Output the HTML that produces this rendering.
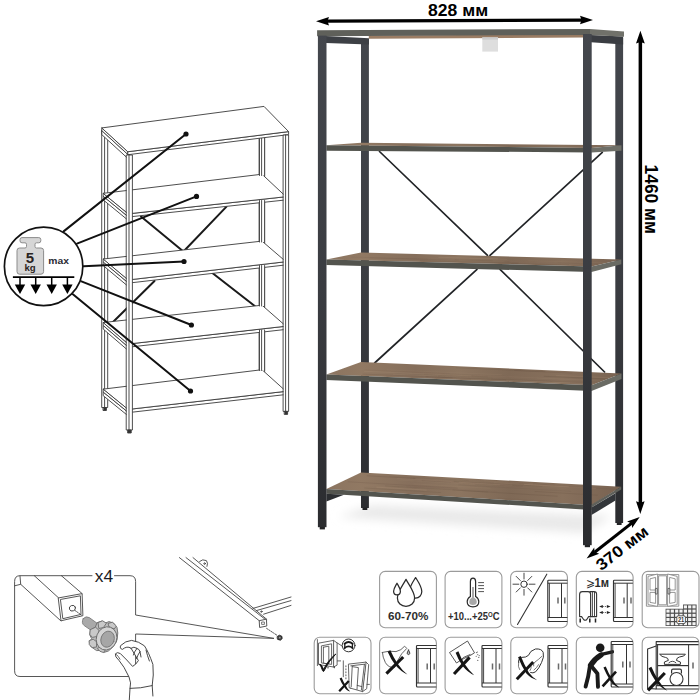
<!DOCTYPE html>
<html lang="ru">
<head>
<meta charset="utf-8">
<title>Стеллаж 828 × 370 × 1460 мм</title>
<style>
html,body{margin:0;padding:0;background:#fff;}
body{width:700px;height:700px;overflow:hidden;font-family:"Liberation Sans",sans-serif;}
svg{display:block;}
text{font-family:"Liberation Sans",sans-serif;}
</style>
</head>
<body>
<svg width="700" height="700" viewBox="0 0 700 700">
<defs>
  <linearGradient id="wood" gradientUnits="userSpaceOnUse" x1="326" y1="0" x2="622" y2="0">
    <stop offset="0" stop-color="#8b7460"/>
    <stop offset="0.12" stop-color="#917963"/>
    <stop offset="0.3" stop-color="#856e5b"/>
    <stop offset="0.45" stop-color="#8c7560"/>
    <stop offset="0.62" stop-color="#7f6956"/>
    <stop offset="0.8" stop-color="#87705c"/>
    <stop offset="1" stop-color="#786251"/>
  </linearGradient>
  <linearGradient id="floor" x1="0" y1="0" x2="0" y2="1">
    <stop offset="0" stop-color="#f4f4f4" stop-opacity="0"/>
    <stop offset="0.5" stop-color="#ececec" stop-opacity="1"/>
    <stop offset="1" stop-color="#f4f4f4" stop-opacity="0"/>
  </linearGradient>
  <linearGradient id="post" gradientUnits="userSpaceOnUse" x1="0" y1="30" x2="0" y2="545">
    <stop offset="0" stop-color="#44474d"/>
    <stop offset="0.5" stop-color="#3a3c41"/>
    <stop offset="1" stop-color="#2a2b2e"/>
  </linearGradient>
  <filter id="blur" x="-10%" y="-60%" width="120%" height="220%"><feGaussianBlur stdDeviation="5"/></filter>
</defs>
<rect width="700" height="700" fill="#fff"/>

<!-- ================= MAIN SHELF ================= -->
<g id="shelf">
  <!-- floor shadow -->
  <polygon points="338,517 584,533 612,516 372,505" fill="#e9e9e9" filter="url(#blur)"/>
  <!-- back posts -->
  <rect x="361" y="40" width="7.9" height="468" fill="url(#post)"/>
  <rect x="362.5" y="507.6" width="4.8" height="2.4" fill="#232426"/>
  <rect x="615.3" y="38" width="7.8" height="485" fill="url(#post)"/>
  <rect x="616.8" y="522.6" width="4.8" height="2.4" fill="#232426"/>
  <!-- cross braces (back) -->
  <g stroke="#222427" stroke-width="1.7" fill="none" stroke-linecap="round">
    <line x1="379.5" y1="151.5" x2="487.5" y2="255.4"/>
    <line x1="602.3" y1="152.3" x2="490" y2="255.4"/>
    <line x1="477" y1="269.3" x2="374.6" y2="363"/>
    <line x1="500" y1="269.3" x2="604.6" y2="372"/>
  </g>
  <!-- top side rails -->
  <polygon points="326,36 369,38.2 369,44.4 326,43" fill="#3d4045"/>
  <polygon points="591,35 623.1,36.6 623.1,44.4 591,42.2" fill="#3a3d42"/>
  <!-- top shelf underside + edge -->
  <polygon points="368.8,35.6 583,34.4 583,37.5 368.8,38.7" fill="#9a7c63"/>
  <polygon points="317.1,30.3 590,28.9 590,34.9 317.1,36.2" fill="#5f605a"/>
  <polygon points="590,28.9 624,31.4 624,36.7 590,34.9" fill="#70716a"/>
  <!-- bracket -->
  <rect x="482.3" y="37.4" width="15.7" height="14.2" fill="#dedede"/>
  <rect x="482.3" y="37.4" width="15.7" height="2.2" fill="#cbcbcb"/>

  <!-- shelf 2 -->
  <polygon points="326.4,145.2 361,142.8 621.5,145.2 591.5,147.9" fill="url(#wood)"/>
  <polygon points="326.4,145.2 591.5,147.9 591.5,152.4 326.4,150.7" fill="#53544e"/>
  <polygon points="591.5,147.9 621.5,145.3 621.5,150.8 591.5,152.4" fill="#6d6e67"/>
  <!-- shelf 3 -->
  <polygon points="326.4,259.5 361,252.5 621.3,259.5 591.5,266.4" fill="url(#wood)"/>
  <polygon points="326.4,259.5 591.5,266.4 591.5,272 326.4,265.1" fill="#53544e"/>
  <polygon points="591.5,266.4 621.3,259.5 621.3,264.2 591.5,272" fill="#6a6b64"/>
  <!-- shelf 4 -->
  <polygon points="326.4,374.5 361,362 621.5,373.5 591.5,385.2" fill="url(#wood)"/>
  <polygon points="326.4,374.5 591.5,385.2 591.5,391 326.4,380" fill="#53544e"/>
  <polygon points="591.5,385.2 621.5,373.5 621.5,379 591.5,391" fill="#6a6b64"/>
  <!-- shelf 5 -->
  <polygon points="326.4,489 361,472.5 621.2,486.8 591.5,505.2" fill="url(#wood)"/>
  <polygon points="326.4,489 591.5,505.2 591.5,509.9 326.4,493.8" fill="#53544e"/>
  <polygon points="591.5,504.6 621.2,486.8 621.2,489.6 591.5,507.4" fill="#5f605a"/>
  <g id="grain" fill="none" stroke-linecap="round">
<line x1="370.1" y1="257.9" x2="458.3" y2="260.2" stroke="#5e4a3b" stroke-opacity="0.23" stroke-width="0.6"/>
<line x1="351.8" y1="257.1" x2="427.5" y2="259.1" stroke="#5e4a3b" stroke-opacity="0.11" stroke-width="0.8"/>
<line x1="349.8" y1="259.2" x2="418.6" y2="260.9" stroke="#b0967c" stroke-opacity="0.12" stroke-width="0.6"/>
<line x1="469.9" y1="258.4" x2="506.8" y2="259.4" stroke="#b0967c" stroke-opacity="0.16" stroke-width="0.6"/>
<line x1="511.6" y1="263.5" x2="568.7" y2="265.0" stroke="#5e4a3b" stroke-opacity="0.19" stroke-width="1.0"/>
<line x1="509.9" y1="261.7" x2="557.3" y2="263.0" stroke="#b0967c" stroke-opacity="0.19" stroke-width="0.6"/>
<line x1="455.2" y1="259.8" x2="492.2" y2="260.8" stroke="#5e4a3b" stroke-opacity="0.20" stroke-width="0.8"/>
<line x1="438.8" y1="257.3" x2="497.4" y2="258.8" stroke="#b0967c" stroke-opacity="0.25" stroke-width="0.8"/>
<line x1="505.1" y1="261.6" x2="597.5" y2="264.1" stroke="#5e4a3b" stroke-opacity="0.11" stroke-width="0.8"/>
<line x1="528.3" y1="260.7" x2="607.1" y2="262.8" stroke="#a48a72" stroke-opacity="0.20" stroke-width="0.6"/>
<line x1="420.5" y1="260.7" x2="518.2" y2="263.2" stroke="#5e4a3b" stroke-opacity="0.25" stroke-width="0.8"/>
<line x1="471.2" y1="379.1" x2="569.7" y2="383.1" stroke="#b0967c" stroke-opacity="0.23" stroke-width="0.8"/>
<line x1="412.6" y1="373.1" x2="487.4" y2="376.2" stroke="#6b5546" stroke-opacity="0.11" stroke-width="0.6"/>
<line x1="456.2" y1="367.7" x2="544.8" y2="371.6" stroke="#5e4a3b" stroke-opacity="0.22" stroke-width="0.8"/>
<line x1="556.5" y1="375.5" x2="610.4" y2="377.8" stroke="#a48a72" stroke-opacity="0.21" stroke-width="1.0"/>
<line x1="537.3" y1="378.2" x2="599.8" y2="380.8" stroke="#b0967c" stroke-opacity="0.12" stroke-width="0.6"/>
<line x1="395.8" y1="373.9" x2="491.8" y2="377.8" stroke="#6b5546" stroke-opacity="0.16" stroke-width="0.8"/>
<line x1="426.0" y1="376.7" x2="505.7" y2="380.0" stroke="#5e4a3b" stroke-opacity="0.23" stroke-width="1.0"/>
<line x1="424.6" y1="374.3" x2="487.4" y2="376.9" stroke="#6b5546" stroke-opacity="0.25" stroke-width="0.6"/>
<line x1="363.0" y1="374.1" x2="452.2" y2="377.8" stroke="#5e4a3b" stroke-opacity="0.18" stroke-width="1.0"/>
<line x1="393.6" y1="374.2" x2="438.0" y2="376.0" stroke="#b0967c" stroke-opacity="0.16" stroke-width="1.0"/>
<line x1="364.6" y1="371.3" x2="471.0" y2="375.8" stroke="#b0967c" stroke-opacity="0.20" stroke-width="1.0"/>
<line x1="520.5" y1="380.9" x2="594.7" y2="383.9" stroke="#b0967c" stroke-opacity="0.16" stroke-width="0.8"/>
<line x1="441.9" y1="373.7" x2="508.2" y2="376.4" stroke="#5e4a3b" stroke-opacity="0.11" stroke-width="0.6"/>
<line x1="365.0" y1="369.9" x2="448.7" y2="373.4" stroke="#5e4a3b" stroke-opacity="0.10" stroke-width="0.6"/>
<line x1="544.2" y1="376.3" x2="607.5" y2="379.0" stroke="#5e4a3b" stroke-opacity="0.24" stroke-width="1.0"/>
<line x1="473.6" y1="375.2" x2="588.2" y2="380.0" stroke="#b0967c" stroke-opacity="0.16" stroke-width="0.6"/>
<line x1="435.2" y1="376.7" x2="552.2" y2="381.5" stroke="#6b5546" stroke-opacity="0.18" stroke-width="0.6"/>
<line x1="491.3" y1="378.7" x2="587.6" y2="382.6" stroke="#6b5546" stroke-opacity="0.23" stroke-width="0.6"/>
<line x1="387.3" y1="369.9" x2="501.4" y2="374.7" stroke="#a48a72" stroke-opacity="0.12" stroke-width="1.0"/>
<line x1="514.7" y1="370.6" x2="571.7" y2="373.1" stroke="#5e4a3b" stroke-opacity="0.21" stroke-width="0.8"/>
<line x1="535.0" y1="491.5" x2="597.4" y2="495.2" stroke="#5e4a3b" stroke-opacity="0.19" stroke-width="1.0"/>
<line x1="385.5" y1="486.0" x2="487.7" y2="492.0" stroke="#5e4a3b" stroke-opacity="0.23" stroke-width="0.8"/>
<line x1="398.5" y1="480.0" x2="474.5" y2="484.3" stroke="#a48a72" stroke-opacity="0.22" stroke-width="0.6"/>
<line x1="451.3" y1="482.1" x2="499.4" y2="484.8" stroke="#b0967c" stroke-opacity="0.25" stroke-width="0.8"/>
<line x1="504.3" y1="484.8" x2="565.8" y2="488.3" stroke="#a48a72" stroke-opacity="0.11" stroke-width="0.6"/>
<line x1="376.9" y1="487.2" x2="426.4" y2="490.1" stroke="#b0967c" stroke-opacity="0.26" stroke-width="1.0"/>
<line x1="454.2" y1="481.4" x2="541.9" y2="486.4" stroke="#5e4a3b" stroke-opacity="0.23" stroke-width="0.6"/>
<line x1="519.4" y1="483.9" x2="615.3" y2="489.3" stroke="#6b5546" stroke-opacity="0.24" stroke-width="0.8"/>
<line x1="422.0" y1="480.5" x2="522.5" y2="486.2" stroke="#6b5546" stroke-opacity="0.17" stroke-width="1.0"/>
<line x1="508.5" y1="482.7" x2="554.4" y2="485.2" stroke="#5e4a3b" stroke-opacity="0.10" stroke-width="1.0"/>
<line x1="524.4" y1="484.3" x2="568.3" y2="486.7" stroke="#b0967c" stroke-opacity="0.26" stroke-width="1.0"/>
<line x1="389.5" y1="476.2" x2="468.0" y2="480.6" stroke="#5e4a3b" stroke-opacity="0.10" stroke-width="1.0"/>
<line x1="458.6" y1="484.9" x2="570.8" y2="491.3" stroke="#6b5546" stroke-opacity="0.26" stroke-width="0.6"/>
<line x1="397.7" y1="478.5" x2="450.8" y2="481.5" stroke="#a48a72" stroke-opacity="0.18" stroke-width="1.0"/>
<line x1="453.1" y1="490.0" x2="557.2" y2="496.2" stroke="#5e4a3b" stroke-opacity="0.25" stroke-width="0.8"/>
<line x1="494.1" y1="482.7" x2="595.6" y2="488.4" stroke="#b0967c" stroke-opacity="0.17" stroke-width="1.0"/>
<line x1="364.6" y1="488.0" x2="440.8" y2="492.6" stroke="#6b5546" stroke-opacity="0.22" stroke-width="1.0"/>
<line x1="497.9" y1="498.2" x2="544.7" y2="501.1" stroke="#6b5546" stroke-opacity="0.20" stroke-width="0.6"/>
<line x1="413.9" y1="483.9" x2="490.2" y2="488.3" stroke="#b0967c" stroke-opacity="0.18" stroke-width="0.6"/>
<line x1="367.2" y1="475.8" x2="415.0" y2="478.5" stroke="#5e4a3b" stroke-opacity="0.22" stroke-width="1.0"/>
<line x1="348.1" y1="481.8" x2="457.2" y2="488.1" stroke="#5e4a3b" stroke-opacity="0.17" stroke-width="1.0"/>
<line x1="484.5" y1="480.9" x2="532.9" y2="483.6" stroke="#a48a72" stroke-opacity="0.17" stroke-width="1.0"/>
<line x1="459.2" y1="482.3" x2="511.9" y2="485.2" stroke="#b0967c" stroke-opacity="0.24" stroke-width="0.8"/>
<line x1="542.9" y1="485.0" x2="591.6" y2="487.7" stroke="#6b5546" stroke-opacity="0.12" stroke-width="0.6"/>
<line x1="406.9" y1="486.2" x2="496.8" y2="491.5" stroke="#6b5546" stroke-opacity="0.11" stroke-width="1.0"/>
<line x1="363.5" y1="485.1" x2="462.7" y2="491.0" stroke="#a48a72" stroke-opacity="0.12" stroke-width="0.6"/>
</g>
  <!-- lower side rail right -->
  <polygon points="591.5,507.4 615.4,493.2 615.4,500.6 591.5,515" fill="#33363a"/>
  <!-- lower side rail left -->
  <polygon points="326.4,493.8 344,494.8 326.4,501.6" fill="#2c2e31"/>

  <!-- front posts -->
  <rect x="317.9" y="35.6" width="8.6" height="491.6" fill="url(#post)"/>
  <rect x="319.7" y="527" width="5.2" height="2.4" fill="#232426"/>
  <rect x="583" y="34" width="8.7" height="511.2" fill="url(#post)"/>
  <rect x="584.8" y="545" width="5.2" height="2.2" fill="#232426"/>
</g>

<!-- ================= DIMENSION ARROWS ================= -->
<g fill="#000" stroke="none">
  <!-- width -->
  <polygon points="316,21.2 329,17 327.5,21.1 329,25.4"/>
  <polygon points="593,20.1 580,15.8 581.5,20.1 580,24.2"/>
  <polygon points="327,19.5 582,18.5 582,21.7 327,22.7"/>
  <!-- height -->
  <polygon points="640.4,30.7 636,43.5 640.4,42 644.8,43.5"/>
  <polygon points="640.3,514 636,501.2 640.3,502.8 644.6,501.2"/>
  <rect x="638.6" y="42" width="3.5" height="461"/>
  <!-- depth -->
  <polygon points="586.6,558.5 594.2,547.4 594.6,551.9 599.2,553.8"/>
  <polygon points="639.7,516.9 632.1,528 631.7,523.5 627.1,521.6"/>
  <polygon points="593.7,551 632.4,520.7 634.3,523.1 595.6,553.4"/>
</g>

<g id="linedraw" fill="#fff" stroke="#3a3a3a" stroke-width="0.9" stroke-linejoin="round" stroke-linecap="round">
<rect x="259.5" y="120" width="5.1" height="262"/>
<line x1="261.6" y1="120" x2="261.6" y2="382" />
<rect x="102.1" y="130" width="5.6" height="277.5"/>
<line x1="104.6" y1="134" x2="104.6" y2="407.5"/>
<rect x="103.4" y="407.5" width="3" height="3" fill="#333"/>
<g stroke="#1a1a1a" stroke-width="2" fill="none">
<line x1="141" y1="216.5" x2="184" y2="252"/>
<line x1="226.5" y1="206.6" x2="183" y2="252"/>
<line x1="213" y1="273.5" x2="256" y2="307"/>
<line x1="154.5" y1="281" x2="110" y2="325"/>
</g>
<polygon points="103.5,196.5 128.5,217.0 128.5,220.6 103.5,200.1"/>
<polygon points="103.5,193.3 128.5,213.8 128.5,217.0 103.5,196.5"/>
<polygon points="128.5,213.8 286.0,196.7 286.0,199.9 128.5,217.0"/>
<polygon points="103.5,193.3 262.0,174.2 286.0,196.7 128.5,213.8"/>
<polygon points="103.5,262.2 128.5,283.1 128.5,286.7 103.5,265.8"/>
<polygon points="103.5,259.0 128.5,279.9 128.5,283.1 103.5,262.2"/>
<polygon points="128.5,279.9 286.0,261.7 286.0,264.9 128.5,283.1"/>
<polygon points="103.5,259.0 262.0,241.1 286.0,261.7 128.5,279.9"/>
<polygon points="103.5,325.7 128.5,347.2 128.5,350.8 103.5,329.3"/>
<polygon points="103.5,322.5 128.5,344.0 128.5,347.2 103.5,325.7"/>
<polygon points="128.5,344.0 286.0,326.2 286.0,329.4 128.5,347.2"/>
<polygon points="103.5,322.5 262.0,305.2 286.0,326.2 128.5,344.0"/>
<polygon points="103.5,392.3 128.5,412.6 128.5,416.2 103.5,395.9"/>
<polygon points="103.5,389.1 128.5,409.4 128.5,412.6 103.5,392.3"/>
<polygon points="128.5,409.4 286.0,391.3 286.0,394.5 128.5,412.6"/>
<polygon points="103.5,389.1 262.0,369.7 286.0,391.3 128.5,409.4"/>
<rect x="259.5" y="137.0" width="5.1" height="38.5" stroke="none"/>
<line x1="259.5" y1="137.0" x2="259.5" y2="175.5"/>
<line x1="261.6" y1="137.0" x2="261.6" y2="175.5"/>
<line x1="264.6" y1="137.0" x2="264.6" y2="175.5"/>
<rect x="259.5" y="200.5" width="5.1" height="41.5" stroke="none"/>
<line x1="259.5" y1="200.5" x2="259.5" y2="242.0"/>
<line x1="261.6" y1="200.5" x2="261.6" y2="242.0"/>
<line x1="264.6" y1="200.5" x2="264.6" y2="242.0"/>
<rect x="259.5" y="265.5" width="5.1" height="40.5" stroke="none"/>
<line x1="259.5" y1="265.5" x2="259.5" y2="306.0"/>
<line x1="261.6" y1="265.5" x2="261.6" y2="306.0"/>
<line x1="264.6" y1="265.5" x2="264.6" y2="306.0"/>
<rect x="259.5" y="330.0" width="5.1" height="40.5" stroke="none"/>
<line x1="259.5" y1="330.0" x2="259.5" y2="370.5"/>
<line x1="261.6" y1="330.0" x2="261.6" y2="370.5"/>
<line x1="264.6" y1="330.0" x2="264.6" y2="370.5"/>
<polygon points="102.1,130.9 128.1,154.7 128.1,158.7 102.1,134.9"/>
<polygon points="102.1,127.9 128.1,151.7 128.1,154.7 102.1,130.9"/>
<polygon points="128.1,151.7 288.6,131.6 288.6,134.6 128.1,154.7"/>
<polygon points="102.1,127.9 264.0,106.4 288.6,131.6 128.1,151.7"/>
<rect x="126.6" y="155" width="5.8" height="275"/>
<line x1="129" y1="155" x2="129" y2="430"/>
<rect x="128" y="430" width="3.2" height="3" fill="#333"/>
<rect x="283.5" y="135" width="5.1" height="276.4"/>
<line x1="285.6" y1="135" x2="285.6" y2="411.4"/>
<rect x="284.6" y="411.4" width="3" height="3" fill="#333"/>
</g>
<g stroke="#111" stroke-width="2" stroke-linecap="round" fill="#111">
<line x1="63.6" y1="231.4" x2="186.0" y2="134.0"/>
<circle cx="186.0" cy="134.0" r="2.6" stroke="none"/>
<line x1="77.0" y1="243.6" x2="196.5" y2="196.4"/>
<circle cx="196.5" cy="196.4" r="2.6" stroke="none"/>
<line x1="83.6" y1="266.2" x2="184.0" y2="261.5"/>
<circle cx="184.0" cy="261.5" r="2.6" stroke="none"/>
<line x1="81.4" y1="281.4" x2="191.4" y2="325.0"/>
<circle cx="191.4" cy="325.0" r="2.6" stroke="none"/>
<line x1="72.9" y1="294.3" x2="190.5" y2="391.0"/>
<circle cx="190.5" cy="391.0" r="2.6" stroke="none"/>
</g>
<circle cx="43.6" cy="266.4" r="39.2" fill="#fff" stroke="#111" stroke-width="1.7"/>
<path d="M22,237.6 H38.8 Q40.8,237.6 40.8,239.6 V240.8 Q40.8,242.8 38.8,242.8 H36.5 Q35,242.8 35,244.3 V246.5 Q35,248 36.5,248 H41 Q43.6,248 43.6,250.6 V271.6 Q43.6,274.2 41,274.2 H19.6 Q17,274.2 17,271.6 V250.6 Q17,248 19.6,248 H25 Q26.5,248 26.5,246.5 V244.3 Q26.5,242.8 25,242.8 H22 Q20,242.8 20,240.8 V239.6 Q20,237.6 22,237.6 Z" fill="#d6d6d6" stroke="#8c8c8c" stroke-width="1"/>
<text x="30" y="262.8" font-size="15" font-weight="700" text-anchor="middle" fill="#2a2422">5</text>
<text x="30" y="270.6" font-size="9.6" font-weight="700" text-anchor="middle" fill="#2a2422">kg</text>
<text x="58.6" y="263.7" font-size="9.8" font-weight="700" text-anchor="middle" fill="#2a2a33" textLength="20.6" lengthAdjust="spacingAndGlyphs">max</text>
<g fill="#000" stroke="#000">
<line x1="12.9" y1="277.1" x2="74.3" y2="277.1" stroke-width="1.6"/>
<line x1="20.0" y1="277" x2="20.0" y2="286" stroke-width="1.5"/>
<polygon points="14.8,284.6 25.2,284.6 20.0,294" stroke="none"/>
<line x1="35.7" y1="277" x2="35.7" y2="286" stroke-width="1.5"/>
<polygon points="30.5,284.6 40.9,284.6 35.7,294" stroke="none"/>
<line x1="51.7" y1="277" x2="51.7" y2="286" stroke-width="1.5"/>
<polygon points="46.5,284.6 56.9,284.6 51.7,294" stroke="none"/>
<line x1="67.4" y1="277" x2="67.4" y2="286" stroke-width="1.5"/>
<polygon points="62.2,284.6 72.6,284.6 67.4,294" stroke="none"/>
</g>
<g id="footdraw" fill="none" stroke="#444" stroke-width="0.9" stroke-linejoin="round" stroke-linecap="round">
<path d="M92,575.7 H20 Q14.6,575.7 14.6,581.5 V670.8 Q14.6,676.5 20,676.5 H128.6"/>
<path d="M114.5,575.7 H130 Q135.6,575.7 135.6,581.5 V615 L274,638.4 L135.6,634 V676.5"/>
<path d="M61.4,575.7 L82.1,593.6"/>
<path d="M34.3,575.7 L58.6,597.9"/>
<path d="M20.7,584.3 L60.9,620.9"/>
<path d="M14.6,585.8 L20.7,584.3 L20,576"/>
<polygon points="58.6,597.9 82.1,593.6 82.9,615.7 61.4,620.7" fill="#fff"/>
<polygon points="60.8,599.4 80.4,595.8 81,614.4 63.2,618.6" fill="#fff"/>
<ellipse cx="72.4" cy="608.2" rx="3.1" ry="2.8" transform="rotate(-20 72.4 608.2)"/>
<path d="M74.6,610.2 L81.6,615.2" stroke-dasharray="2.2 1.2 0.6 1.2"/>
<path d="M83.2,618.6 Q86,615.6 89.3,617.6 L99.5,625 L94.5,632.6 L84.2,625.6 Q81,623 83.2,618.6 Z" fill="#a9a9a9" stroke="#7d7d7d"/>
<path d="M97.4,622.6 L102,621 L105.4,623 L109,621.6 L113.4,623 L117,627.4 L117.8,633 L117,640 L113.4,646.6 L108.4,651 L104,652.4 L100.8,650.4 L96.6,650.6 L90.8,646.6 L89.6,641.4 L91.6,638.6 L89.8,635 L90.6,630 L95,627.4 Z" fill="#bdbdbd" stroke="#6c6c6c"/>
<polygon points="90.4,629.6 95.6,627.2 99,630.4 98.4,636.2 92.4,637.4 90,634.6" fill="#c9c9c9" stroke="#6c6c6c"/>
<polygon points="89.4,640.6 93.2,639.2 96.4,641.6 96.6,647 92.2,647.6 89.6,645" fill="#c9c9c9" stroke="#6c6c6c"/>
<polygon points="98.4,622.4 102.6,620.8 106.4,623.2 103.4,627.6 99.2,628.4" fill="#c9c9c9" stroke="#6c6c6c"/>
<polygon points="108.4,623.4 112.4,622.2 116.4,626 114.2,629 109.4,627" fill="#c9c9c9" stroke="#6c6c6c"/>
<polygon points="97.6,648.2 101.6,646.6 105.4,649.6 103.6,652.6 100.2,651.4" fill="#c9c9c9" stroke="#6c6c6c"/>
<ellipse cx="106.6" cy="638.4" rx="10.2" ry="11.8" transform="rotate(20 106.6 638.4)" fill="#d4d4d4" stroke="#6c6c6c"/>
<ellipse cx="107.6" cy="639.2" rx="6.6" ry="8.2" transform="rotate(20 107.6 639.2)" fill="#a6a6a6" stroke="#777"/>
<path d="M129.3,700 L130,688.4 Q131.6,683 129,677 Q124,666 119,660.4 Q114.6,656.6 115.4,653.8 Q117.2,651.6 120.4,653.6 Q127,660 132.6,666.4 Q136,664.6 138.4,660.6 L131,648.2 Q127,645.6 122.4,649.4 Q119.4,648.6 120.6,645.6 Q125.4,640.8 131.6,640.4 Q139,641.4 144.4,645.8 Q148.6,652 152.9,664.4 Q154,675 152.2,685.6 L152.9,696" fill="#fff" stroke="#333"/>
<path d="M130,688.4 Q140,688.6 152.2,685.6" stroke="#333"/>
<path d="M131,648.2 Q134,646 137,648.4 Q134,652 133.4,655 M137,648.4 Q139.4,649 140,651.6 Q137.6,655 136.6,658.6 M140,651.6 L141,657 M146,650 Q147.4,656 149.4,661" stroke="#333"/>
<path d="M116.6,654.6 Q118.6,656.6 120,659.2" stroke="#555"/>
<path d="M179.4,557.6 L259.6,621 M186,557.6 L265,619.2 M193,557.6 L266.8,619.4"/>
<polygon points="259.6,620.6 266.4,619.2 266.8,626 260,627.4" fill="#fff"/>
<rect x="262" y="622" width="2.4" height="2.4" stroke-width="0.7"/>
<path d="M253,608.4 L291,597 M256.4,610.6 L291,600.6 M263.6,614.2 L291,605.4"/>
<path d="M199.6,561.4 Q202.6,558.6 206.4,560.6 Q208.4,563 207,566.4" />
<circle cx="204.6" cy="563.6" r="0.8"/>
<path d="M266.6,628.4 L276.6,635" stroke-dasharray="2 1.2 0.6 1.2"/>
<polygon points="277.4,636.4 279.4,635.2 281.8,636.2 282.2,638.6 280.4,640.2 277.8,639.4" fill="#444" stroke="#111" stroke-width="0.8"/><circle cx="279.8" cy="637.7" r="0.9" fill="#999" stroke="none"/>
<circle cx="261.4" cy="611.6" r="0.7"/>
</g>
<text x="104" y="581.6" font-size="16.5" text-anchor="middle" fill="#1c1c24" textLength="18.4" lengthAdjust="spacingAndGlyphs">x4</text>
<g id="icons">
<rect x="379.6" y="571.4" width="56.8" height="56.4" rx="5.6" ry="5.6" fill="#fff" stroke="#9b9b9b" stroke-width="1.1"/>
<rect x="445.1" y="571.4" width="56.8" height="56.4" rx="5.6" ry="5.6" fill="#fff" stroke="#9b9b9b" stroke-width="1.1"/>
<rect x="510.6" y="571.4" width="56.8" height="56.4" rx="5.6" ry="5.6" fill="#fff" stroke="#9b9b9b" stroke-width="1.1"/>
<rect x="576.3" y="571.4" width="56.8" height="56.4" rx="5.6" ry="5.6" fill="#fff" stroke="#9b9b9b" stroke-width="1.1"/>
<rect x="642.2" y="571.4" width="56.8" height="56.4" rx="5.6" ry="5.6" fill="#fff" stroke="#9b9b9b" stroke-width="1.1"/>
<rect x="314.2" y="637.3" width="56.8" height="56.4" rx="5.6" ry="5.6" fill="#fff" stroke="#9b9b9b" stroke-width="1.1"/>
<rect x="379.6" y="637.3" width="56.8" height="56.4" rx="5.6" ry="5.6" fill="#fff" stroke="#9b9b9b" stroke-width="1.1"/>
<rect x="445.1" y="637.3" width="56.8" height="56.4" rx="5.6" ry="5.6" fill="#fff" stroke="#9b9b9b" stroke-width="1.1"/>
<rect x="510.8" y="637.3" width="56.8" height="56.4" rx="5.6" ry="5.6" fill="#fff" stroke="#9b9b9b" stroke-width="1.1"/>
<rect x="576.3" y="637.3" width="56.8" height="56.4" rx="5.6" ry="5.6" fill="#fff" stroke="#9b9b9b" stroke-width="1.1"/>
<rect x="642.2" y="637.3" width="56.8" height="56.4" rx="5.6" ry="5.6" fill="#fff" stroke="#9b9b9b" stroke-width="1.1"/>
<g fill="#fff" stroke="#2b2b2b" stroke-width="1.25" stroke-linejoin="round">
<path d="M415.6,577.6 C418.6,582.4 421.8,586.6 421.8,591.6 C421.8,595.4 419,598 415.6,598 C412.2,598 409.4,595.4 409.4,591.6 C409.4,586.6 412.6,582.4 415.6,577.6 Z"/>
<path d="M406,579.4 C409.4,585.6 414.6,592 414.6,598 C414.6,603 410.8,606.4 406,606.4 C401.2,606.4 397.4,603 397.4,598 C397.4,592 402.6,585.6 406,579.4 Z"/>
<path d="M397,583.2 C398.6,586.2 400.4,588.6 400.4,591.2 C400.4,593.4 398.8,594.8 397,594.8 C395.2,594.8 393.6,593.4 393.6,591.2 C393.6,588.6 395.4,586.2 397,583.2 Z"/>
</g>
<text x="408.2" y="620" font-size="11.8" font-weight="700" text-anchor="middle" fill="#2e2e2e" textLength="40.4" lengthAdjust="spacingAndGlyphs">60-70%</text>
<path d="M470.4,581.4 Q470.4,578.2 473,578.2 Q475.6,578.2 475.6,581.4 V596.6 Q478.8,598.4 478.8,601.8 Q478.8,606.8 473,606.8 Q467.2,606.8 467.2,601.8 Q467.2,598.4 470.4,596.6 Z" fill="#fff" stroke="#2b2b2b" stroke-width="1.2"/>
<path d="M472,587 H474 V597.6 Q476.8,598.8 476.8,601.8 Q476.8,605 473,605 Q469.2,605 469.2,601.8 Q469.2,598.8 472,597.6 Z" fill="#a8a8a8"/>
<path d="M478.2,582.6 H484 M478.2,585.6 H484 M478.2,588.6 H484 M478.2,591.6 H484" stroke="#555" stroke-width="1" fill="none"/>
<text x="473.8" y="620" font-size="11.8" font-weight="700" text-anchor="middle" fill="#2e2e2e" textLength="51.4" lengthAdjust="spacingAndGlyphs">+10...+25<tspan font-size="7.6" dy="-3.4">O</tspan><tspan dy="3.4">C</tspan></text>
<g fill="none" stroke="#333" stroke-width="0.9" stroke-linecap="round">
<circle cx="524" cy="584.2" r="3.2" stroke-width="1"/>
<line x1="529.2" y1="584.2" x2="535.0" y2="584.2"/>
<line x1="527.7" y1="587.9" x2="531.8" y2="592.0"/>
<line x1="524.0" y1="589.4" x2="524.0" y2="595.2"/>
<line x1="520.3" y1="587.9" x2="516.2" y2="592.0"/>
<line x1="518.8" y1="584.2" x2="513.0" y2="584.2"/>
<line x1="520.3" y1="580.5" x2="516.2" y2="576.4"/>
<line x1="524.0" y1="579.0" x2="524.0" y2="573.2"/>
<line x1="527.7" y1="580.5" x2="531.8" y2="576.4"/>
<line x1="546.8" y1="574.2" x2="517.5" y2="624.5" stroke-width="1.1"/>
</g>
<g fill="none" stroke="#333" stroke-width="1.15" stroke-linecap="butt"><path d="M567.4,580.2 H548.6 Q547.8,580.2 547.8,581.0 V620.5 Q547.8,621.5 548.8,621.5 H567.4"/><path d="M547.8,583.2 H567.4 M547.8,617.5 H567.4" stroke-width="1"/><path d="M549.4,583.2 V617.5" stroke-width="0.9"/><path d="M561.5,583.2 V617.5" stroke-width="1"/><path d="M558.0,597.5 V603.5 M564.8,597.5 V603.5" stroke="#6a6a6a" stroke-width="1.5"/></g>
<text x="597.3" y="586.6" font-size="12.4" font-weight="700" text-anchor="middle" fill="#2a2a2a" textLength="23.6" lengthAdjust="spacingAndGlyphs"><tspan font-weight="400">⩾</tspan>1м</text>
<g fill="#fff" stroke="#333" stroke-width="1.1" stroke-linejoin="round">
<path d="M590,591.6 H594 Q596.6,591.6 596.6,594 V616.6 H590 Z"/>
<path d="M592.4,591.8 V616.6 M594.5,592 V616.6" fill="none" stroke-width="0.9"/>
<path d="M579.6,594.4 Q579.6,591.6 582.4,591.6 H588 Q590.6,591.6 590.6,594.4 V616.6 H588.6 L586.6,619.8 Q585.2,620.8 583.8,619.8 L581.6,616.6 H579.6 Z"/>
</g>
<path d="M580.2,618.6 V622.6 M589.8,618.6 V622.6 M595.5,618.6 V622.6" stroke="#222" stroke-width="1.5" fill="none"/>
<path d="M602.4,606.5 H607.4" stroke="#444" stroke-width="0.8" stroke-dasharray="1.4 1" fill="none"/>
<polygon points="599.2,606.5 602.8,604.9 602.8,608.1" fill="#222"/>
<polygon points="610.5,606.5 606.9,604.9 606.9,608.1" fill="#222"/>
<path d="M602.4,612.5 H607.4" stroke="#444" stroke-width="0.8" stroke-dasharray="1.4 1" fill="none"/>
<polygon points="599.2,612.5 602.8,610.9 602.8,614.1" fill="#222"/>
<polygon points="610.5,612.5 606.9,610.9 606.9,614.1" fill="#222"/>
<g fill="none" stroke="#333" stroke-width="1.15" stroke-linecap="butt"><path d="M632.9,580.2 H614.3 Q613.5,580.2 613.5,581.0 V620.5 Q613.5,621.5 614.5,621.5 H632.9"/><path d="M613.5,583.2 H632.9 M613.5,617.5 H632.9" stroke-width="1"/><path d="M615.1,583.2 V617.5" stroke-width="0.9"/><path d="M627.2,583.2 V617.5" stroke-width="1"/><path d="M624.0,597.5 V603.5 M631.0,597.5 V603.5" stroke="#6a6a6a" stroke-width="1.5"/></g>
<g fill="none" stroke="#8a8a8a" stroke-width="0.9" stroke-linejoin="round">
<rect x="646.4" y="574.6" width="32.4" height="31.6"/>
<rect x="658.6" y="575.8" width="8" height="29" />
<polygon points="648,576.4 657.6,574 657.6,606.4 648,604.6" fill="#fff"/>
<polygon points="650,578.8 655.6,577.4 655.6,590 650,590"/>
<polygon points="650,592.4 655.6,592.4 655.6,603.4 650,602.4"/>
<polygon points="677.2,576.4 667.6,574 667.6,606.4 677.2,604.6" fill="#fff"/>
<polygon points="675.2,578.8 669.6,577.4 669.6,590 675.2,590"/>
<polygon points="675.2,592.4 669.6,592.4 669.6,603.4 675.2,602.4"/>
<rect x="655.4" y="588.4" width="1.8" height="5.6" fill="#fff" stroke="#555"/>
<rect x="668" y="588.4" width="1.8" height="5.6" fill="#fff" stroke="#555"/>
</g>
<path d="M683,604.6 H696.6 V626 H665.6 V608.8 H683 Z" fill="#4c4c4c"/>
<rect x="683.8" y="605.4" width="3.2" height="3" fill="#f4f4f4"/>
<rect x="688.1" y="605.4" width="3.2" height="3" fill="#f4f4f4"/>
<rect x="692.4" y="605.4" width="3.2" height="3" fill="#f4f4f4"/>
<rect x="666.4" y="609.6" width="3.2" height="3" fill="#f4f4f4"/>
<rect x="670.7" y="609.6" width="3.2" height="3" fill="#f4f4f4"/>
<rect x="675.1" y="609.6" width="3.2" height="3" fill="#f4f4f4"/>
<rect x="679.4" y="609.6" width="3.2" height="3" fill="#f4f4f4"/>
<rect x="683.8" y="609.6" width="3.2" height="3" fill="#f4f4f4"/>
<rect x="688.1" y="609.6" width="3.2" height="3" fill="#f4f4f4"/>
<rect x="692.4" y="609.6" width="3.2" height="3" fill="#f4f4f4"/>
<rect x="666.4" y="613.8" width="3.2" height="3" fill="#f4f4f4"/>
<rect x="670.7" y="613.8" width="3.2" height="3" fill="#f4f4f4"/>
<rect x="675.1" y="613.8" width="3.2" height="3" fill="#f4f4f4"/>
<rect x="679.4" y="613.8" width="3.2" height="3" fill="#f4f4f4"/>
<rect x="683.8" y="613.8" width="3.2" height="3" fill="#f4f4f4"/>
<rect x="688.1" y="613.8" width="3.2" height="3" fill="#f4f4f4"/>
<rect x="692.4" y="613.8" width="3.2" height="3" fill="#f4f4f4"/>
<rect x="666.4" y="618.0" width="3.2" height="3" fill="#f4f4f4"/>
<rect x="670.7" y="618.0" width="3.2" height="3" fill="#f4f4f4"/>
<rect x="675.1" y="618.0" width="3.2" height="3" fill="#f4f4f4"/>
<rect x="679.4" y="618.0" width="3.2" height="3" fill="#f4f4f4"/>
<rect x="683.8" y="618.0" width="3.2" height="3" fill="#f4f4f4"/>
<rect x="688.1" y="618.0" width="3.2" height="3" fill="#f4f4f4"/>
<rect x="692.4" y="618.0" width="3.2" height="3" fill="#f4f4f4"/>
<rect x="666.4" y="622.2" width="3.2" height="3" fill="#f4f4f4"/>
<rect x="670.7" y="622.2" width="3.2" height="3" fill="#f4f4f4"/>
<rect x="675.1" y="622.2" width="3.2" height="3" fill="#f4f4f4"/>
<rect x="679.4" y="622.2" width="3.2" height="3" fill="#f4f4f4"/>
<rect x="683.8" y="622.2" width="3.2" height="3" fill="#f4f4f4"/>
<rect x="688.1" y="622.2" width="3.2" height="3" fill="#f4f4f4"/>
<rect x="692.4" y="622.2" width="3.2" height="3" fill="#f4f4f4"/>
<rect x="676.8" y="615.8" width="8.6" height="7.8" rx="1.6" fill="#fff" stroke="#333" stroke-width="0.8"/>
<text x="681.1" y="622.4" font-size="6.6" font-weight="700" text-anchor="middle" fill="#333" textLength="6.4" lengthAdjust="spacingAndGlyphs">21</text>
<g fill="none" stroke="#4a4a4a" stroke-width="0.85" stroke-linejoin="round" stroke-linecap="round">
<path d="M317.4,639.6 V665.6" stroke="#666" stroke-width="1"/>
<polygon points="333.6,640.4 337.1,642.9 337.1,665.1 333.6,667" fill="#fff"/>
<polygon points="318.9,643.1 333.6,640.4 333.6,667 318.9,664.6" fill="#fff"/>
<polygon points="321.8,645.8 331.6,643.8 331.6,664.4 321.8,663"/>
<path d="M323.4,647.2 L328.8,646.2 V663.4 M323.4,647.2 V663 M328.8,663.6 Q326,664.4 324.6,663.4"/>
<path d="M328,667 V668 M334.4,666.6 V667.8" stroke-width="1.1"/>
<path d="M337.4,660.9 H340.6"/>
<path d="M337.2,642.9 L342.6,646.4"/>
<circle cx="348.6" cy="645.4" r="6.4" fill="#fff" stroke="#333" stroke-width="1"/>
<path d="M344.4,643.8 Q348.6,640.2 352.8,643.8 M344.6,648 Q348.6,644.8 352.6,648" stroke="#1a1a1a" stroke-width="1.7"/>
<path d="M344.8,643.4 V648 M352.4,643.4 V648" stroke="#1a1a1a" stroke-width="1.3"/>
<path d="M343.3,660.8 V676.8" stroke="#666" stroke-width="1"/>
<path d="M345.9,665.8 V679.4" stroke="#777" stroke-width="1.2" stroke-dasharray="0.9 2.1"/>
<polygon points="366.1,662.1 368.7,664.7 366.7,688.7 362.6,691.6" fill="#fff"/>
<polygon points="348.4,664.1 366.1,662.1 362.6,691.6 349.2,687.8" fill="#fff" stroke-dasharray="30 0"/>
<path d="M350.8,665.8 L364.6,664.2 M352.2,666.6 L358.4,667.6 L357,689.4 M352.2,666.6 L351.2,686.8 M364.4,664.4 L361.4,690 M357.2,685.4 L361.8,686.6"/>
<path d="M367,684.4 H369.4"/>
</g>
<path d="M319.6,664.2 Q321.6,664 323.6,669.4 Q327.6,660.6 335.8,654 Q328.4,661.4 323.9,671.2 Q323,671.8 322.5,670.6 Q321.2,666.4 319.6,664.2 Z" fill="#111" stroke="#111" stroke-width="0.9" stroke-linejoin="round"/>
<path d="M339.59,678.54 Q341.33,683.14 344.29,687.09 Q346.40,691.00 350.20,691.40 Q347.60,689.50 346.11,686.11 Q343.36,682.06 341.61,677.46 Z" fill="#151515"/><line x1="348.8" y1="681.0" x2="339.2" y2="691.2" stroke="#151515" stroke-width="2.3"/>
<g fill="none" stroke="#555" stroke-width="0.9" stroke-linejoin="round" stroke-linecap="round">
<path d="M382.4,652.4 Q389,650.4 396,651.6 Q401.4,650.4 404.6,646.2 L406.8,648.4 Q401,653.4 398,660 Q396.8,664.4 394.6,667.4 Q388.4,668 385.4,662.6 Q382.6,657 382.4,652.4 Z"/>
<path d="M408.5,650 Q409.9,652.4 409.8,653.3 Q409.5,654.6 408.5,654.6 Q407.5,654.6 407.2,653.3 Q407.1,652.4 408.5,650 Z" stroke="#333" stroke-width="0.9" fill="#bbb"/>
</g>
<path d="M387.65,651.76 Q390.65,658.87 395.28,665.08 Q400.65,671.50 407.40,674.60 Q401.85,670.00 397.72,663.72 Q393.36,657.36 390.35,650.24 Z" fill="#151515"/><line x1="403.2" y1="657.0" x2="386.4" y2="673.6" stroke="#151515" stroke-width="3.1"/>
<g fill="none" stroke="#333" stroke-width="1.15" stroke-linecap="butt"><path d="M436.3,645.5 H417.3 Q416.5,645.5 416.5,646.3 V686.0 Q416.5,687.0 417.5,687.0 H436.3"/><path d="M416.5,648.5 H436.3 M416.5,683.0 H436.3" stroke-width="1"/><path d="M418.1,648.5 V683.0" stroke-width="0.9"/><path d="M430.5,648.5 V683.0" stroke-width="1"/><path d="M427.2,663.5 V669.5 M434.2,663.5 V669.5" stroke="#6a6a6a" stroke-width="1.5"/></g>
<g fill="none" stroke="#444" stroke-width="0.9" stroke-linejoin="round">
<polygon points="449.5,652.5 467.5,641 474.5,652.8 471,655 461.4,659.8 456.5,663"/>
<path d="M461.4,659.8 L463.2,657.6 L470.4,654.4" />
</g>
<circle cx="476.4" cy="652.6" r="0.55" fill="#555"/>
<circle cx="477.8" cy="654.6" r="0.55" fill="#555"/>
<circle cx="476.2" cy="656.2" r="0.55" fill="#555"/>
<circle cx="478.8" cy="657.4" r="0.55" fill="#555"/>
<circle cx="477.4" cy="652.0" r="0.55" fill="#555"/>
<circle cx="479.2" cy="655.6" r="0.55" fill="#555"/>
<circle cx="477.8" cy="660.4" r="0.55" fill="#555"/>
<path d="M455.62,652.70 Q458.16,659.59 462.36,665.63 Q467.60,672.10 474.20,675.20 Q468.80,670.60 464.84,664.37 Q460.92,658.18 458.38,651.30 Z" fill="#151515"/><line x1="469.6" y1="657.4" x2="454.0" y2="674.0" stroke="#151515" stroke-width="3.1"/>
<g fill="none" stroke="#333" stroke-width="1.15" stroke-linecap="butt"><path d="M501.8,645.5 H482.8 Q482.0,645.5 482.0,646.3 V686.0 Q482.0,687.0 483.0,687.0 H501.8"/><path d="M482.0,648.5 H501.8 M482.0,683.0 H501.8" stroke-width="1"/><path d="M483.6,648.5 V683.0" stroke-width="0.9"/><path d="M496.0,648.5 V683.0" stroke-width="1"/><path d="M492.5,663.5 V669.5 M499.5,663.5 V669.5" stroke="#6a6a6a" stroke-width="1.5"/></g>
<g fill="none" stroke="#333" stroke-width="1" stroke-linejoin="round" stroke-linecap="round">
<path d="M518.6,662.6 Q518,658.6 521.6,657.4 Q526,657.6 528.4,655.4 Q530,650.6 535.4,649 Q541.6,648.4 543.2,652.4 Q544.4,657 541.6,662.4 Q539,668.6 535.6,671.8 Q533,673.6 530.6,672.6"/>
<path d="M541.8,656.4 Q538,660 535,662 Q532.8,663.6 533.6,666 M538.6,664.6 Q536.6,668 534,670 M518.6,662.6 Q517.6,666.6 519.6,669.6 M530,670.6 Q531.4,668.6 531.2,666.6" stroke="#555" stroke-width="0.8"/>
</g>
<path d="M518.06,657.27 Q521.42,665.84 526.39,673.60 Q531.10,678.60 537.20,680.20 Q532.30,677.10 528.81,672.40 Q524.10,664.50 520.74,655.93 Z" fill="#151515"/><line x1="533.2" y1="662.0" x2="516.8" y2="679.2" stroke="#151515" stroke-width="3.0"/>
<g fill="none" stroke="#333" stroke-width="1.15" stroke-linecap="butt"><path d="M567.5,645.5 H548.8 Q548.0,645.5 548.0,646.3 V686.0 Q548.0,687.0 549.0,687.0 H567.5"/><path d="M548.0,648.5 H567.5 M548.0,683.0 H567.5" stroke-width="1"/><path d="M549.6,648.5 V683.0" stroke-width="0.9"/><path d="M562.0,648.5 V683.0" stroke-width="1"/><path d="M558.5,663.5 V669.5 M565.5,663.5 V669.5" stroke="#6a6a6a" stroke-width="1.5"/></g>
<circle cx="600.2" cy="647.8" r="4.3" fill="#1a1a1a"/>
<g fill="none" stroke="#1a1a1a" stroke-linecap="round" stroke-linejoin="round">
<path d="M601,655 Q594.6,658.8 590.6,665.2" stroke-width="5.4"/>
<path d="M600.4,654.6 L612.4,651.8" stroke-width="3.4"/>
<path d="M590,665.6 Q588.6,677 585.6,686.6" stroke-width="3.9"/>
<path d="M590.8,665.6 L597.4,673.4 L598,686.8" stroke-width="3.9"/>
</g>
<g fill="none" stroke="#333" stroke-width="1.15">
<path d="M632.9,641.5 H612 Q611.2,641.5 611.2,642.3 V686 Q611.2,687 612.2,687 H632.9"/>
<path d="M611.2,644.5 H632.9 M611.2,684 H632.9" stroke-width="1"/>
<path d="M612.8,644.5 V684" stroke-width="0.9"/>
<path d="M626.5,644.5 V684" stroke-width="1"/>
<path d="M622.8,661.5 V667.5 M630,661.5 V667.5" stroke="#6a6a6a" stroke-width="1.5"/>
</g>
<path d="M603.44,667.59 Q606.31,674.72 610.56,681.14 Q614.20,686.10 619.40,687.60 Q615.40,684.60 612.64,680.06 Q608.62,673.53 605.76,666.41 Z" fill="#151515"/><line x1="616.0" y1="671.6" x2="602.6" y2="686.4" stroke="#151515" stroke-width="2.6"/>
<g fill="none" stroke="#333" stroke-width="1.1" stroke-linejoin="round">
<path d="M698.6,641.6 H656.2 V689 H698.6"/>
<path d="M656.2,644.6 H698.6 M656.2,685.6 H698.6"/>
<path d="M656.2,646 L647.6,649 V688.4 L656.2,689"/>
<path d="M657.6,644.6 V685.6 M688.6,644.6 V685.6" stroke-width="1"/>
<path d="M657.6,665.6 H688.6" stroke-width="1.2"/>
<path d="M693,662.6 V668.4" stroke="#666" stroke-width="1.5"/>
<path d="M659.6,654.2 H685.4 Q685,656.4 679.4,657 Q676.6,657.6 676.4,660.4 L680.4,662 V664.4 H664.4 V662 L668.4,660.4 Q668.2,657.6 665.4,657.4 Q661.6,657 659.6,654.2 Z" fill="#fff" stroke-width="1"/>
<path d="M668.6,663 Q672.4,659.6 676.2,663" stroke-width="0.9"/>
<path d="M671.6,673.6 V670.6 Q671.6,669.2 673,669.2 H680 Q681.4,669.2 681.4,670.6 V673.6" stroke-width="1.2"/>
<circle cx="676.5" cy="679" r="6.5" fill="#fff" stroke-width="1.1"/>
</g>
<path d="M648.59,668.36 Q651.62,675.78 656.33,682.29 Q661.20,688.20 667.40,690.80 Q662.40,686.70 658.87,680.91 Q654.43,674.26 651.41,666.84 Z" fill="#151515"/><line x1="664.8" y1="673.0" x2="648.0" y2="690.4" stroke="#151515" stroke-width="3.2"/>
</g>
<text x="458.1" y="16.2" font-size="16" font-weight="700" text-anchor="middle" textLength="60" lengthAdjust="spacingAndGlyphs">828 мм</text>
<text transform="translate(645,199.2) rotate(90)" font-size="17.6" font-weight="700" text-anchor="middle" textLength="69.4" lengthAdjust="spacingAndGlyphs">1460 мм</text>
<text transform="translate(625.4,552.4) rotate(-38)" font-size="16" font-weight="700" text-anchor="middle" textLength="61.5" lengthAdjust="spacingAndGlyphs">370 мм</text>
</svg>
</body>
</html>
